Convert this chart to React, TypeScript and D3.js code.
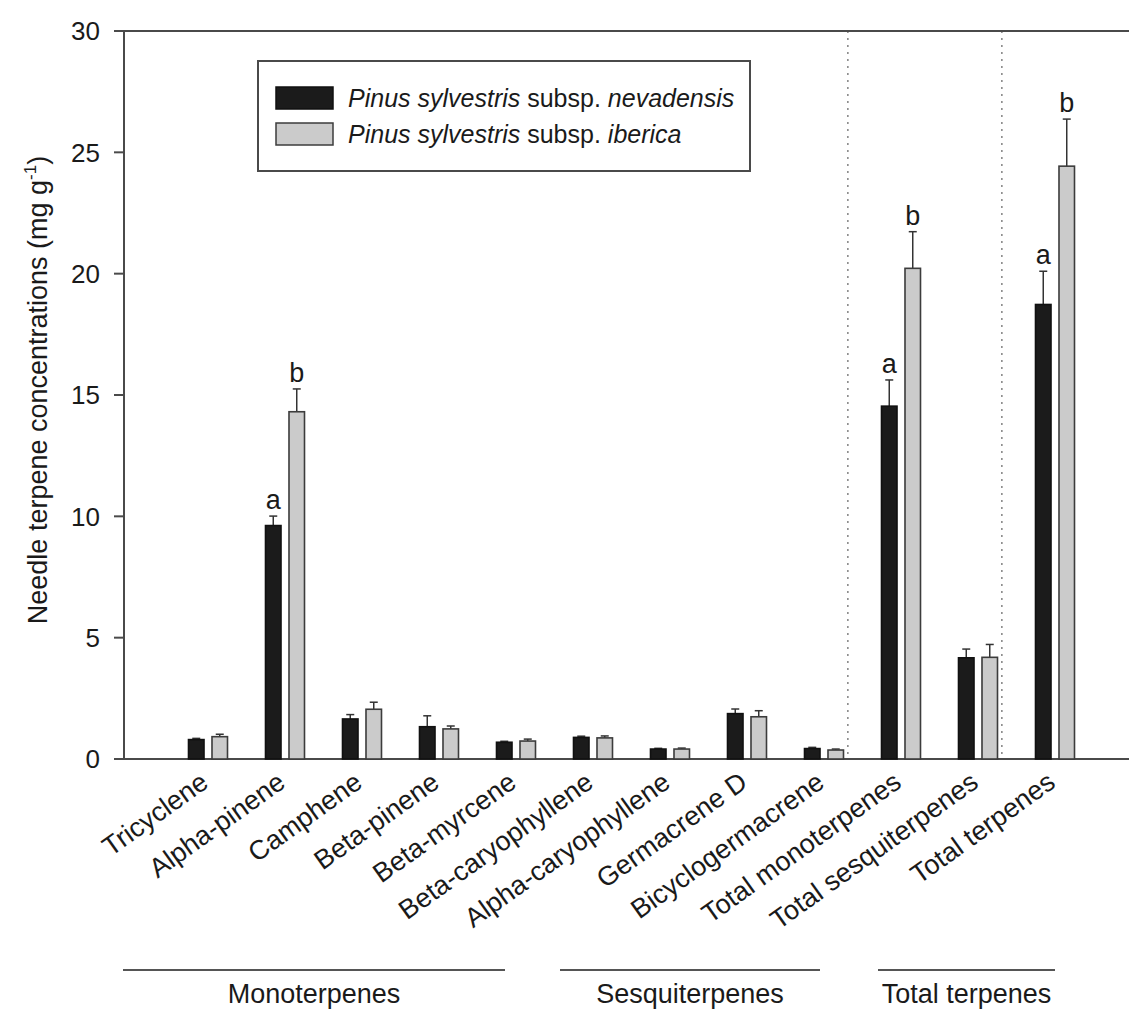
import React from "react";
import * as d3 from "d3";

const categories = [
  "Tricyclene",
  "Alpha-pinene",
  "Camphene",
  "Beta-pinene",
  "Beta-myrcene",
  "Beta-caryophyllene",
  "Alpha-caryophyllene",
  "Germacrene D",
  "Bicyclogermacrene",
  "Total monoterpenes",
  "Total sesquiterpenes",
  "Total terpenes",
];
const seriesNames = ["nevadensis", "iberica"];
const nevadensis = [0.8, 9.62, 1.65, 1.33, 0.69, 0.89, 0.41, 1.87, 0.43, 14.54, 4.17, 18.73];
const nevadensisErr = [0.05, 0.39, 0.18, 0.45, 0.04, 0.05, 0.03, 0.19, 0.05, 1.08, 0.36, 1.37];
const iberica = [0.92, 14.31, 2.05, 1.24, 0.74, 0.87, 0.41, 1.74, 0.37, 20.22, 4.19, 24.43];
const ibericaErr = [0.1, 0.94, 0.29, 0.12, 0.08, 0.08, 0.04, 0.25, 0.04, 1.51, 0.53, 1.94];
const nevadensisLetters = ["", "a", "", "", "", "", "", "", "", "a", "", "a"];
const ibericaLetters = ["", "b", "", "", "", "", "", "", "", "b", "", "b"];
const yTicks = [0, 5, 10, 15, 20, 25, 30];
const separatorsAfter = ["Bicyclogermacrene", "Total sesquiterpenes"];
const groupNames = ["Monoterpenes", "Sesquiterpenes", "Total terpenes"];
const groupFirst = ["Tricyclene", "Beta-caryophyllene", "Total monoterpenes"];
const groupLast = ["Beta-myrcene", "Bicyclogermacrene", "Total terpenes"];

const W = 1129;
const H = 1012;
const FONT = "'Liberation Sans', Arial, Helvetica, sans-serif";
const AXIS = "#4a4a4a";

export default function App() {
  const y = d3.scaleLinear().domain([0, 30]).range([759, 31]);
  const x = d3.scaleBand<string>().domain(categories).range([169.5, 1093.5]);
  const bw = x.bandwidth();
  const sub = d3
    .scaleBand<string>()
    .domain(seriesNames)
    .range([bw / 2 - 19.5, bw / 2 + 19.5])
    .paddingInner(0.34);
  const sw = sub.bandwidth();
  const axisLeft = 124;

  const series = [
    { name: "nevadensis", vals: nevadensis, errs: nevadensisErr, letters: nevadensisLetters, fill: "#1b1b1b", stroke: "#111" },
    { name: "iberica", vals: iberica, errs: ibericaErr, letters: ibericaLetters, fill: "#cbcbcb", stroke: "#3c3c3c" },
  ];

  const center = (c: string) => (x(c) as number) + bw / 2;
  const groupStartOff = [-85, -33, -23];
  const groupEndOff = [-11, -4, 0];

  return (
    <svg
      width={W}
      height={H}
      style={{ position: "absolute", left: 0, top: 0, display: "block", background: "#fff" }}
      fontFamily={FONT}
    >
      <rect x={0} y={0} width={W} height={H} fill="#fff" />
      {/* separators */}
      {separatorsAfter.map((c) => {
        const sx = (x(c) as number) + bw * 0.81;
        return (
          <line key={c} x1={sx} x2={sx} y1={y(30)} y2={y(0)} stroke="#7a7a7a" strokeWidth={1.4} strokeDasharray="2 5" />
        );
      })}
      {/* axes frame */}
      <line x1={axisLeft} x2={W} y1={y(30)} y2={y(30)} stroke={AXIS} strokeWidth={2} />
      <line x1={axisLeft} x2={W} y1={y(0)} y2={y(0)} stroke={AXIS} strokeWidth={2} />
      <line x1={axisLeft} x2={axisLeft} y1={y(30)} y2={y(0)} stroke={AXIS} strokeWidth={2} />
      {yTicks.map((t) => (
        <g key={t}>
          <line x1={axisLeft - 10} x2={axisLeft} y1={y(t)} y2={y(t)} stroke={AXIS} strokeWidth={2} />
          <text x={100} y={y(t)} dy="0.36em" textAnchor="end" fontSize={26} fill="#1a1a1a">
            {t}
          </text>
        </g>
      ))}
      {/* y label */}
      <text
        transform={`translate(47,390) rotate(-90)`}
        textAnchor="middle"
        fontSize={27}
        fill="#1a1a1a"
      >
        Needle terpene concentrations (mg g
        <tspan fontSize={17} dy={-11}>-1</tspan>
        <tspan dy={11}>)</tspan>
      </text>
      {/* bars */}
      {series.map((s) =>
        categories.map((c, i) => {
          const bx = (x(c) as number) + (sub(s.name) as number);
          const top = y(s.vals[i]);
          const et = y(s.vals[i] + s.errs[i]);
          const cx = bx + sw / 2;
          return (
            <g key={s.name + c}>
              <line x1={cx} x2={cx} y1={top} y2={et} stroke="#333" strokeWidth={1.5} />
              <line x1={cx - 4} x2={cx + 4} y1={et} y2={et} stroke="#333" strokeWidth={1.5} />
              <rect x={bx} y={top} width={sw} height={y(0) - top} fill={s.fill} stroke={s.stroke} strokeWidth={1.6} />
              {s.letters[i] && (
                <text x={cx} y={et - 7} textAnchor="middle" fontSize={27} fill="#1a1a1a">
                  {s.letters[i]}
                </text>
              )}
            </g>
          );
        })
      )}
      {/* category labels */}
      {categories.map((c) => (
        <text
          key={c}
          transform={`translate(${center(c) + 2},786) rotate(-35.6)`}
          textAnchor="end"
          fontSize={27}
          fill="#1a1a1a"
        >
          {c}
        </text>
      ))}
      {/* group labels */}
      {groupNames.map((g, i) => {
        const x1 = center(groupFirst[i]) + groupStartOff[i];
        const x2 = center(groupLast[i]) + groupEndOff[i];
        return (
          <g key={g}>
            <line x1={x1} x2={x2} y1={970} y2={970} stroke="#555" strokeWidth={2} />
            <text x={(x1 + x2) / 2} y={1003} textAnchor="middle" fontSize={27} fill="#1a1a1a">
              {g}
            </text>
          </g>
        );
      })}
      {/* legend */}
      <rect x={258} y={61} width={492} height={110} fill="#fff" stroke={AXIS} strokeWidth={2} />
      {series.map((s, i) => (
        <g key={s.name}>
          <rect x={276} y={87 + i * 36} width={57} height={22} fill={s.fill} stroke={s.stroke} strokeWidth={1.5} />
          <text x={348} y={98 + i * 36} dy="0.36em" fontSize={25} fill="#1a1a1a">
            <tspan fontStyle="italic">Pinus sylvestris</tspan>
            <tspan> subsp. </tspan>
            <tspan fontStyle="italic">{s.name}</tspan>
          </text>
        </g>
      ))}
    </svg>
  );
}
